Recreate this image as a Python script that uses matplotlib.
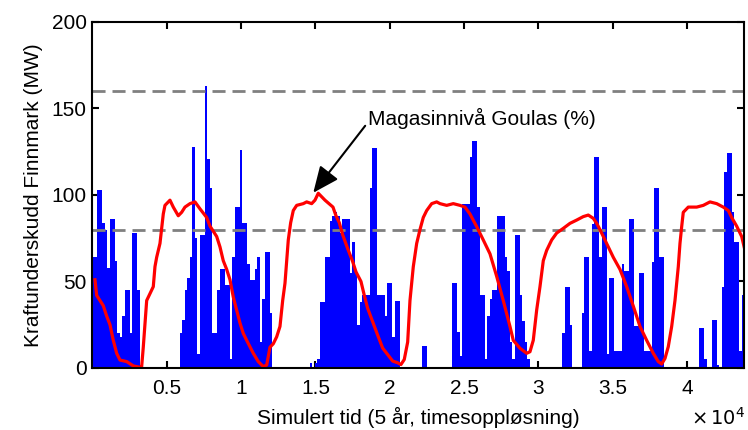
import matplotlib
matplotlib.use("Agg")
import matplotlib.pyplot as plt
import numpy as np

plt.rcParams['font.family'] = ['Liberation Sans', 'DejaVu Sans']

# ukentlig kraftunderskudd i Finnmark (MW), 5 år med timesoppløsning -> 168 t per søyle
week_hours = 168
deficit_mw = [
    64, 64, 103, 103, 84, 80, 58, 86, 86, 62, 20, 18, 30, 45, 45, 20, 78, 78, 45, 0,
    0, 0, 0, 0, 0, 0, 0, 0, 0, 0, 0, 0, 0, 0, 0, 20, 28, 45, 52, 64,
    128, 75, 8, 77, 77, 163, 121, 104, 20, 20, 45, 57, 57, 48, 48, 5, 64, 93, 93, 126,
    84, 84, 60, 51, 51, 57, 64, 15, 40, 67, 67, 32, 0, 0, 0, 0, 0, 0, 0, 0,
    0, 0, 0, 0, 0, 0, 0, 3, 0, 3, 5, 38, 38, 64, 64, 85, 88, 90, 88, 78,
    86, 86, 86, 55, 73, 55, 25, 38, 42, 42, 42, 104, 127, 127, 42, 42, 42, 30, 49, 49,
    18, 39, 39, 0, 0, 0, 0, 0, 0, 0, 0, 0, 13, 13, 0, 0, 0, 0, 0, 0,
    0, 0, 0, 0, 49, 49, 21, 7, 95, 95, 95, 122, 131, 131, 93, 42, 42, 5, 30, 40,
    45, 45, 88, 88, 88, 64, 56, 15, 5, 77, 77, 42, 27, 15, 5, 0, 0, 0, 0, 0,
    0, 0, 0, 0, 0, 0, 0, 0, 20, 47, 47, 25, 0, 0, 0, 0, 32, 64, 64, 10,
    83, 122, 122, 64, 93, 93, 8, 52, 52, 10, 10, 10, 60, 56, 56, 86, 86, 24, 24, 55,
    55, 10, 10, 10, 61, 104, 104, 64, 64, 0, 0, 0, 0, 0, 0, 0, 0, 0, 0, 0,
    0, 0, 0, 23, 23, 5, 0, 0, 28, 28, 2, 0, 47, 113, 124, 124, 90, 73, 73, 10, 42,
]

# magasinnivå Goulas (%)
level_hours = [
    175, 289, 511, 733, 962, 1184, 1406, 1634, 1856, 2307, 2751, 3201, 3315, 3423,
    3652, 3874, 4096, 4210, 4324, 4546, 4768, 4882, 5219, 5441, 5777, 6005, 6227,
    6564, 6900, 7236, 7687, 7909, 8359, 8581, 8803, 9032, 9254, 9476, 9704, 9926,
    10148, 10377, 10821, 11157, 11493, 11722, 11944, 12166, 12394, 12616, 12798,
    12953, 13067, 13175, 13336, 13511, 13739, 14183, 14412, 14748, 14970, 15192,
    15643, 16181, 16383, 16605, 16833, 17169, 17505, 17727, 18064, 18286, 18514,
    18850, 19186, 19523, 19859, 20195, 20531, 20753, 20975, 21204, 21359, 21581,
    21810, 22032, 22254, 22483, 22819, 23155, 23377, 23827, 24271, 24722, 25058,
    25394, 25845, 26288, 26739, 27189, 27633, 28084, 28306, 28757, 29207, 29429,
    29651, 29880, 30102, 30324, 30552, 30889, 31225, 31669, 32119, 32570, 33013,
    33350, 33686, 33915, 34137, 34587, 35031, 35482, 35932, 36376, 36827, 37277,
    37721, 38058, 38286, 38508, 38730, 38959, 39181, 39403, 39517, 39632, 39739,
    40076, 40641, 41085, 41535, 41986, 42429, 42766, 42994, 43330, 43666, 43888,
]
level_pct = [
    51, 42, 39, 36, 30, 25, 16, 8.5, 4.6, 3.7, 1.2, 0.4, 0.8, 12,
    39, 43, 47, 58.6, 64, 72, 89, 94, 97, 93, 88, 90, 93,
    95, 96, 92, 87, 82, 76, 70, 62, 57, 51, 41, 33.5, 26,
    20, 16, 8.5, 3.7, 0.8, 1.7, 12, 14, 18, 24, 39,
    49, 62, 74, 84, 91, 94, 95, 96, 95, 97, 101,
    97, 93, 88, 84, 77, 69, 61.5, 55.6, 50, 42, 34.5,
    26.7, 19, 11.5, 7.8, 4, 3, 2, 4.9, 15, 39, 58.5,
    72, 80, 87, 91, 95, 96, 95, 94, 95, 94, 93,
    89, 81.7, 74, 66, 53, 39, 24, 16, 11.4, 8.5, 9.4,
    16, 33.5, 47, 62, 68, 74, 78, 80.7, 83.6, 85.5, 87.5,
    88.4, 86.5, 83.6, 80, 72, 64, 57, 47, 35.8, 24, 16,
    8.5, 3.7, 2.3, 5.5, 12.3, 24, 39, 58.5, 72, 81.7, 90,
    93, 93, 94, 96, 95, 93, 91, 87, 82, 76, 68,
]

limits_mw = [80, 160]
x_ticks = [5000, 10000, 15000, 20000, 25000, 30000, 35000, 40000]
x_ticklabels = ['0.5', '1', '1.5', '2', '2.5', '3', '3.5', '4']
y_ticks = [0, 50, 100, 150, 200]

fig = plt.figure(figsize=(7.48, 4.30), dpi=100)
ax = fig.add_axes([0.1235, 0.1442, 0.8707, 0.8047])

# søylene som sammenhengende trappeflate, uten hvite skjøter mellom ukene
edges = np.arange(len(deficit_mw) + 1) * week_hours
ax.stairs(deficit_mw, edges, fill=True, color='#0000ff', linewidth=0, zorder=2)

for lim in limits_mw:
    ax.axhline(lim, color='#808080', lw=2, dashes=(4.7, 2.5), zorder=3)

ax.plot(level_hours, level_pct, color='#ff0000', lw=2.3, zorder=4)

ax.annotate('Magasinnivå Goulas (%)', xy=(14856, 101.3), xytext=(18534, 144.5),
            fontsize=15, va='center', ha='left',
            arrowprops=dict(arrowstyle='-|>,head_length=0.8,head_width=0.35',
                            color='black', lw=1.5, mutation_scale=20,
                            shrinkA=0, shrinkB=0, relpos=(0, 0.3)))

ax.set_xlim(0, 43800)
ax.set_ylim(0, 200)
ax.set_xticks(x_ticks)
ax.set_xticklabels(x_ticklabels)
ax.set_yticks(y_ticks)

for side in ['top', 'bottom', 'left', 'right']:
    ax.spines[side].set_linewidth(1.5)
    ax.spines[side].set_zorder(5)
ax.tick_params(direction='in', length=5, width=1.5, top=True, right=True,
               labelsize=15)
ax.tick_params(axis='x', pad=8)
ax.tick_params(axis='y', pad=4)

ax.set_xlabel('Simulert tid (5 år, timesoppløsning)', fontsize=15, labelpad=6)
ax.set_ylabel('Kraftunderskudd Finnmark (MW)', fontsize=15, labelpad=6)
fig.text(745 / 748, 1 - 418 / 430, r'$\times\,10^4$', fontsize=14,
         ha='right', va='center')

fig.savefig('out.png', dpi=100)
